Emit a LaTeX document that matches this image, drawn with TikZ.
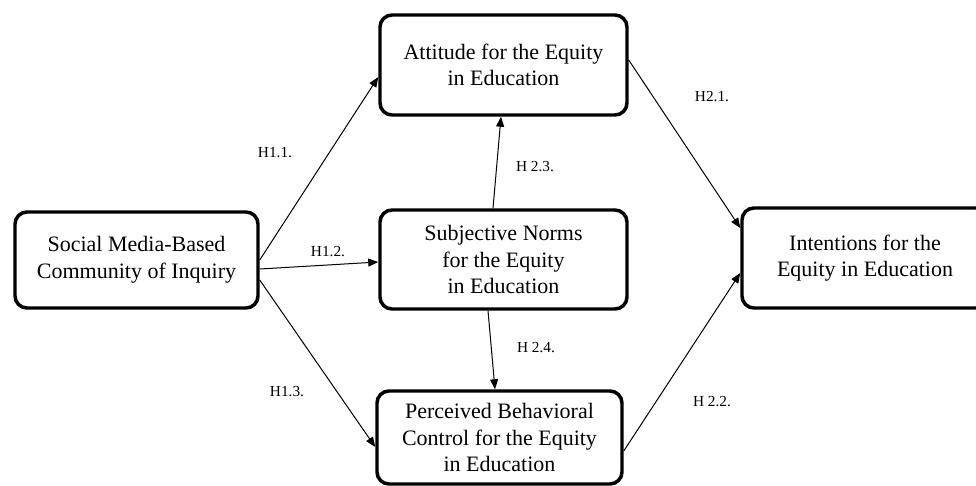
\documentclass[tikz,border=0pt]{standalone}
\usepackage{fontspec}
\setmainfont{Liberation Serif}
\usetikzlibrary{arrows.meta, calc}

\begin{document}
\begin{tikzpicture}[x=0.75pt,y=0.75pt,yscale=-1,
  box/.style={draw, line width=2.6pt, rounded corners=9pt, align=center, inner sep=0pt, font=\fontsize{16.5}{20}\selectfont},
  lnk/.style={line width=0.75pt, -{Triangle[length=7.5pt,width=6pt]}},
  hyp/.style={inner sep=0.75pt, font=\fontsize{11.5}{13}\selectfont}]
\useasboundingbox (0,0) rectangle (976,486);

%Boxes
\node[box, minimum width=182.25pt, minimum height=72pt] (soc) at (136.5,260) {Social Media-Based\\Community of Inquiry};
\node[box, minimum width=185.25pt, minimum height=75pt] (att) at (503.5,65) {Attitude for the Equity\\in Education};
\node[box, minimum width=185.25pt, minimum height=74.25pt] (sub) at (503.5,259.5) {Subjective Norms\\for the Equity\\in Education};
\node[box, minimum width=183.75pt, minimum height=69.75pt] (pbc) at (499.5,437.5) {Perceived Behavioral\\Control for the Equity\\in Education};
\node[box, minimum width=184.5pt, minimum height=75pt] (int) at (865,258) {Intentions for the\\Equity in Education};

%Paths
\draw[lnk] (soc.east) -- ($(att.west)+(0,12)$);
\draw[lnk] ($(soc.east)+(0,9)$) -- ($(sub.west)+(0,2.5)$);
\draw[lnk] ($(soc.east)+(0,20)$) -- ($(pbc.west)+(0,9.5)$);
\draw[lnk] ($(sub.north)+(-10.5,0)$) -- ($(att.south)+(-2.5,0)$);
\draw[lnk] ($(sub.south)+(-15.5,0)$) -- ($(pbc.north)+(-4.5,0)$);
\draw[lnk] ($(att.east)+(0,-5)$) -- ($(int.west)+(0,-30)$);
\draw[lnk] ($(pbc.east)+(0,13.5)$) -- ($(int.west)+(0,15)$);

%Hypotheses
\node[hyp] (h11) at (275,153) {H1.1.};
\node[hyp] (h12) at (328,252) {H1.2.};
\node[hyp] (h13) at (287,392) {H1.3.};
\node[hyp] (h23) at (535,167) {H 2.3.};
\node[hyp] (h24) at (536,348) {H 2.4.};
\node[hyp] (h21) at (712,97) {H2.1.};
\node[hyp] (h22) at (712,402) {H 2.2.};

\end{tikzpicture}
\end{document}
